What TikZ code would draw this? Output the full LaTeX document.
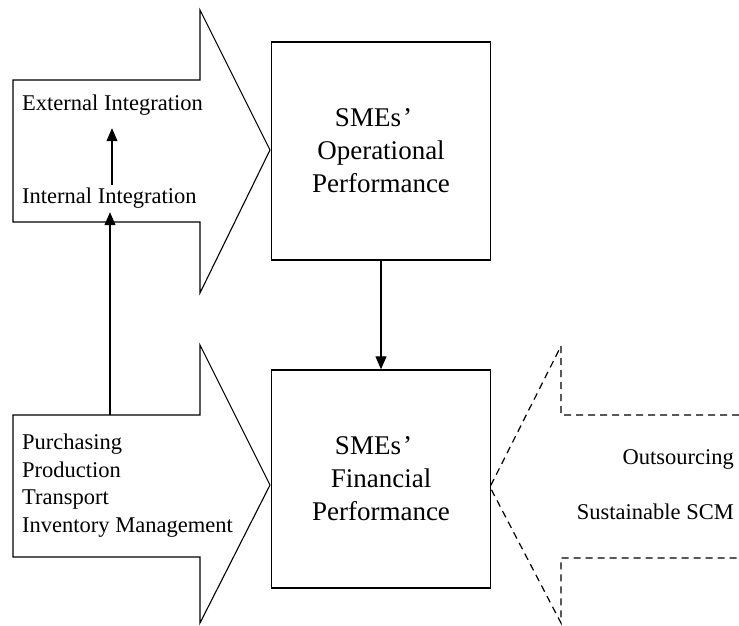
\documentclass[tikz,border=0pt]{standalone}
\usepackage{fontspec}
\setmainfont{Liberation Serif}
\usetikzlibrary{arrows.meta}

\tikzset{
  outline/.style={draw=black, line width=1.1pt, line join=miter},
  dashoutline/.style={draw=black, line width=1.2pt, dash pattern=on 7pt off 5pt},
  perfbox/.style={draw=black, line width=1.4pt, minimum width=219pt, minimum height=218pt,
    inner sep=0pt, align=center, font=\fontsize{27}{33}\selectfont},
  lbl/.style={inner xsep=0pt, inner ysep=4pt, text height=14pt, text depth=5pt,
    font=\fontsize{22.5}{27.5}\selectfont},
  stack/.style={inner sep=0pt, align=left, font=\fontsize{22.5}{27.4}\selectfont},
  conn/.style={draw=black, line width=1.2pt, -{Triangle[length=13pt,width=11pt]}},
}

\begin{document}
\begin{tikzpicture}[x=1pt, y=-1pt]
  \useasboundingbox (0,0) rectangle (739,625);

  % block arrow into operational performance
  \draw[outline] (13,80) -- (200,80) -- (200,10) -- (270,150) -- (200,293)
    -- (200,222) -- (13,222) -- cycle;
  % block arrow into financial performance
  \draw[outline] (13,415) -- (200,415) -- (200,345) -- (270,485) -- (200,623)
    -- (200,557) -- (13,557) -- cycle;
  % dashed block arrow from the right
  \draw[dashoutline] (739,415) -- (561,415) -- (561,346) -- (490,487)
    -- (561,623) -- (561,558) -- (739,558);

  % performance boxes
  \node[perfbox] (op) at (381,151)
    {SMEs\kern2pt’\kern15pt\\Operational\\Performance};
  \node[perfbox] (fin) at (381,479)
    {SMEs\kern2pt’\kern15pt\\Financial\\Performance};

  % integration labels
  \node[lbl, anchor=base west] (ext) at (22,110) {External Integration};
  \node[lbl, anchor=base west] (int) at (22,203) {Internal Integration};

  % supply chain activities (base anchor sits on the last line)
  \node[stack, anchor=base west] (acts) at (22,532)
    {Purchasing\\Production\\Transport\\Inventory Management};

  % moderating factors
  \node[lbl, anchor=east] (outs) at (734,460) {Outsourcing};
  \node[lbl, anchor=east] (sscm) at (734,515) {Sustainable SCM};

  % connectors
  \coordinate (actstop) at (110,415);
  \draw[conn] (op.south) -- (fin.north);
  \draw[conn, shorten >=9pt] (int.north -| 112,0) -- (ext.south -| 112,0);
  \draw[conn] (actstop) -- (int.south -| actstop);
\end{tikzpicture}
\end{document}
